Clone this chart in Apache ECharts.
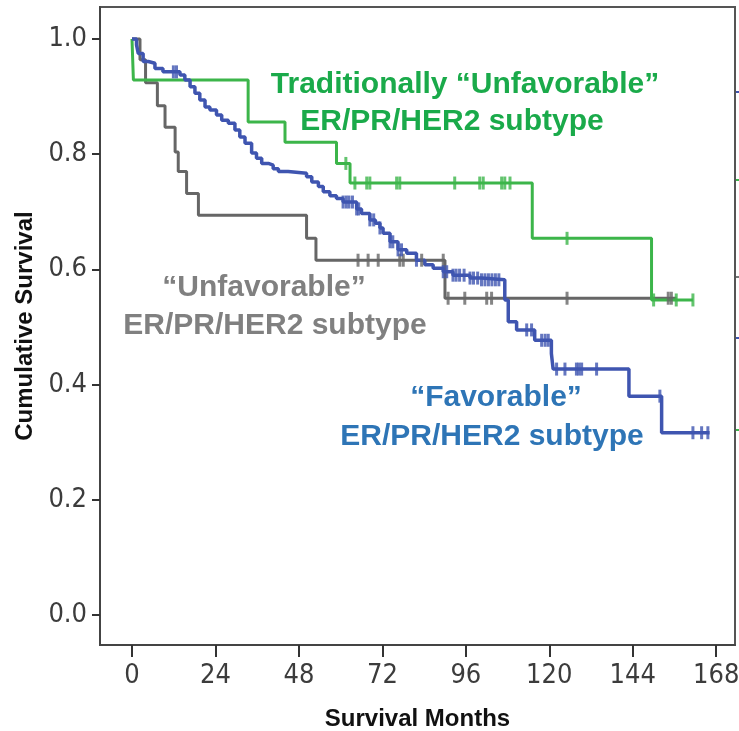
<!DOCTYPE html>
<html>
<head>
<meta charset="utf-8">
<title>Survival by ER/PR/HER2 subtype</title>
<script src="https://cdn.jsdelivr.net/npm/echarts@6/dist/echarts.min.js"></script>
<style>
  html, body { margin: 0; padding: 0; background: #fff; }
  #main { width: 739px; height: 731px; }
</style>
</head>
<body>
<div id="main"></div>
<script>
// axis ticks
var monthTicks = [0, 24, 48, 72, 96, 120, 144, 168];
var survivalTicks = [0, 0.2, 0.4, 0.6, 0.8, 1.0];

// Kaplan-Meier steps: [month, survival after the drop]
var favorableSteps = [
  [0, 1.0], [1.3, 0.99], [1.8, 0.975], [3.2, 0.961], [4.7, 0.958], [6.6, 0.949],
  [8.9, 0.943], [13.8, 0.9375], [15.2, 0.929], [16.7, 0.917], [18.1, 0.906],
  [19.5, 0.894], [21.0, 0.882], [22.4, 0.877], [24.3, 0.868], [25.8, 0.859],
  [27.7, 0.854], [29.6, 0.842], [31.0, 0.830], [32.5, 0.819], [34.4, 0.802],
  [35.8, 0.793], [37.3, 0.784], [39.2, 0.781], [40.6, 0.775], [42.1, 0.770],
  [44.9, 0.767], [50.2, 0.761], [51.7, 0.752], [53.6, 0.744], [55.0, 0.735],
  [56.9, 0.728], [58.8, 0.723], [60.7, 0.717], [64.6, 0.705], [66.0, 0.697],
  [68.4, 0.686], [70.0, 0.680], [71.3, 0.672], [72.2, 0.663], [74.2, 0.648],
  [76.5, 0.634], [79.0, 0.628], [81.8, 0.616], [84.2, 0.608], [86.6, 0.602],
  [89.5, 0.596], [92.3, 0.590], [97.2, 0.585], [100.5, 0.582], [107.2, 0.547],
  [108.2, 0.509], [110.6, 0.495], [115.8, 0.477], [120.6, 0.454], [121.1, 0.427],
  [142.9, 0.380], [152.3, 0.3165], [166.1, 0.3165]
];
var unfavorableSteps = [
  [0, 1.0], [2.3, 0.964], [3.9, 0.924], [7.3, 0.884], [9.5, 0.847], [12.4, 0.804],
  [13.3, 0.770], [15.7, 0.732], [19.1, 0.694], [50.2, 0.654], [52.9, 0.616],
  [90.0, 0.550], [156.6, 0.550]
];
var traditionalSteps = [
  [0, 1.0], [0.4, 0.929], [33.4, 0.856], [44.0, 0.821], [58.8, 0.784],
  [62.7, 0.750], [115.1, 0.654], [149.4, 0.547], [161.3, 0.547]
];

// censored cases: [month, survival]
var favorableCensored = [
  [11.9, 0.943], [12.8, 0.943],
  [60.7, 0.717], [61.6, 0.717], [62.4, 0.717], [63.4, 0.717], [64.6, 0.705], [65.2, 0.705],
  [68.4, 0.686], [69.5, 0.686], [71.3, 0.672], [74.2, 0.648], [75.0, 0.648],
  [76.5, 0.634], [77.5, 0.634], [81.8, 0.616], [89.5, 0.596], [90.5, 0.596],
  [92.3, 0.590], [93.2, 0.590], [94.2, 0.590], [95.5, 0.590],
  [97.2, 0.585], [98.2, 0.585], [99.4, 0.585],
  [100.5, 0.582], [101.5, 0.582], [102.5, 0.582], [103.5, 0.582], [104.5, 0.582], [105.5, 0.582],
  [113.5, 0.495], [114.9, 0.495], [117.8, 0.477], [118.8, 0.477], [119.7, 0.477],
  [122.1, 0.427], [124.5, 0.427], [127.8, 0.427], [128.5, 0.427], [129.3, 0.427], [133.6, 0.427],
  [151.8, 0.380], [161.3, 0.3165], [163.8, 0.3165], [165.6, 0.3165]
];
var unfavorableCensored = [
  [65.0, 0.616], [67.9, 0.616], [70.8, 0.616], [77.0, 0.616], [78.0, 0.616],
  [83.3, 0.616], [89.5, 0.616],
  [90.9, 0.550], [95.7, 0.550], [102.0, 0.550], [103.4, 0.550], [125.1, 0.550],
  [154.2, 0.550], [155.1, 0.550]
];
var traditionalCensored = [
  [61.5, 0.784],
  [64.1, 0.750], [67.5, 0.750], [68.4, 0.750], [76.1, 0.750], [77.0, 0.750],
  [92.8, 0.750], [100.0, 0.750], [101.0, 0.750], [106.3, 0.750], [107.2, 0.750], [108.7, 0.750],
  [125.1, 0.654], [150.0, 0.547], [156.5, 0.547], [161.3, 0.547]
];

var blue = '#3f55b0', grey = '#666666', green = '#3cb54a';
var tickFont = "'Liberation Sans Narrow', 'DejaVu Sans Condensed', sans-serif";
var boldFont = "'Liberation Sans', Arial, sans-serif";

function stepSeries (name, data, color, width) {
  return {
    name: name, type: 'line', step: 'end', data: data,
    showSymbol: false, symbol: 'none', animation: false,
    lineStyle: { color: color, width: width }, z: 3
  };
}
function censorSeries (name, data, color) {
  return {
    name: name, type: 'scatter', data: data, animation: false,
    symbol: 'rect', symbolSize: [3, 13],
    itemStyle: { color: color }, z: 4
  };
}
function label (text, x, y, color) {
  return {
    type: 'text', x: x, y: y, z: 10,
    style: { text: text, fill: color, font: 'bold 30px ' + boldFont, align: 'center', verticalAlign: 'middle' }
  };
}

var myChart = echarts.init(document.getElementById('main'), null, { renderer: 'canvas' });
myChart.setOption({
  backgroundColor: '#fff',
  animation: false,
  grid: {
    left: 100, right: 4, top: 7, bottom: 86, outerBoundsMode: 'none',
    show: true, borderColor: '#555', borderWidth: 2
  },
  xAxis: {
    type: 'value', min: -9.2, max: 173.4,
    name: 'Survival Months', nameLocation: 'middle', nameGap: 62,
    nameTextStyle: { fontFamily: boldFont, fontWeight: 'bold', fontSize: 24, color: '#111' },
    axisLine: { show: true, onZero: false, lineStyle: { color: '#444', width: 2 } },
    axisTick: { show: true, length: 12, customValues: monthTicks, lineStyle: { color: '#333', width: 2 } },
    axisLabel: { customValues: monthTicks, margin: 17, fontFamily: tickFont, fontSize: 27, color: '#3c3c3c' },
    splitLine: { show: false }
  },
  yAxis: {
    type: 'value', min: -0.052, max: 1.0556,
    name: 'Cumulative Survival', nameLocation: 'middle', nameGap: 62,
    nameTextStyle: { fontFamily: boldFont, fontWeight: 'bold', fontSize: 24, color: '#111' },
    axisLine: { show: true, onZero: false, lineStyle: { color: '#444', width: 2 } },
    axisTick: { show: true, length: 8, customValues: survivalTicks, lineStyle: { color: '#333', width: 2 } },
    axisLabel: {
      customValues: survivalTicks, margin: 13, fontFamily: tickFont, fontSize: 27, color: '#3c3c3c',
      formatter: function (v) { return v.toFixed(1); }
    },
    splitLine: { show: false }
  },
  series: [
    stepSeries('Unfavorable', unfavorableSteps, grey, 3),
    stepSeries('Traditionally Unfavorable', traditionalSteps, green, 3),
    stepSeries('Favorable', favorableSteps, blue, 3.5),
    censorSeries('Unfavorable censored', unfavorableCensored, grey),
    censorSeries('Traditionally Unfavorable censored', traditionalCensored, green),
    censorSeries('Favorable censored', favorableCensored, blue)
  ],
  graphic: [
    label('Traditionally \u201cUnfavorable\u201d', 465, 85, '#1aaa4a'),
    label('ER/PR/HER2 subtype', 452, 122, '#1aaa4a'),
    label('\u201cUnfavorable\u201d', 264, 288, '#808080'),
    label('ER/PR/HER2 subtype', 275, 326, '#808080'),
    label('\u201cFavorable\u201d', 496, 398, '#2e75b6'),
    label('ER/PR/HER2 subtype', 492, 437, '#2e75b6'),
    { type: 'rect', shape: { x: 736, y: 91, width: 3, height: 2 }, style: { fill: blue } },
    { type: 'rect', shape: { x: 736, y: 179, width: 3, height: 2 }, style: { fill: green } },
    { type: 'rect', shape: { x: 736, y: 276, width: 3, height: 2 }, style: { fill: '#777' } },
    { type: 'rect', shape: { x: 736, y: 337, width: 3, height: 2 }, style: { fill: blue } },
    { type: 'rect', shape: { x: 736, y: 429, width: 3, height: 2 }, style: { fill: green } }
  ]
});
window.addEventListener('resize', function () {
  myChart.resize();
});
</script>
</body>
</html>
